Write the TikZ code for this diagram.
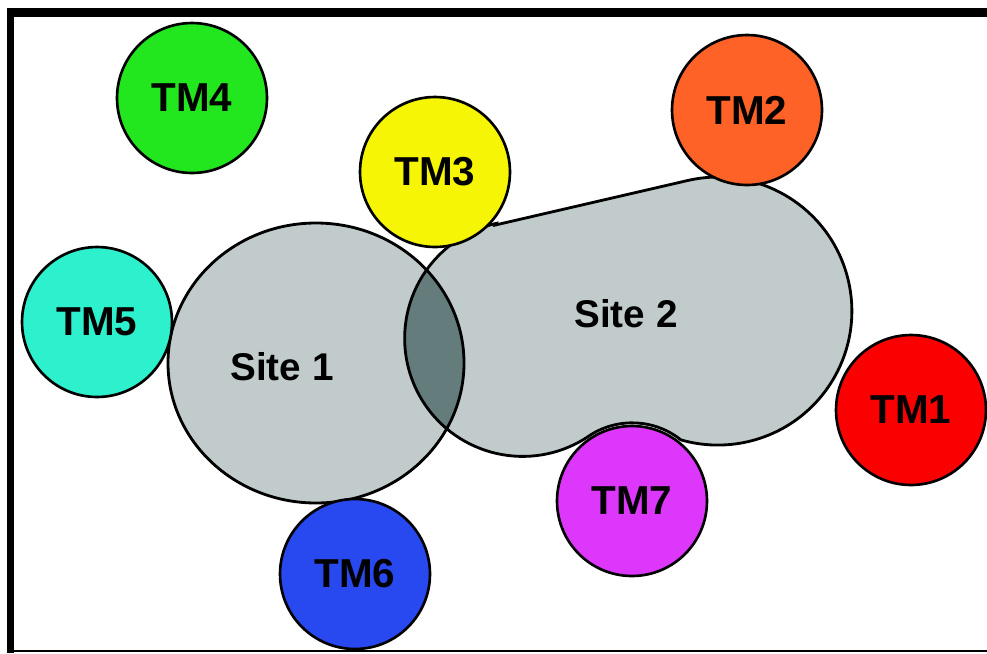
\documentclass[tikz,border=0pt]{standalone}
\usepackage{fontspec}
\setmainfont{Liberation Sans}

\definecolor{tmgreen}{RGB}{34,230,30}
\definecolor{tmorange}{RGB}{255,98,38}
\definecolor{tmyellow}{RGB}{245,245,5}
\definecolor{tmteal}{RGB}{45,240,205}
\definecolor{tmred}{RGB}{250,0,0}
\definecolor{tmmagenta}{RGB}{220,55,250}
\definecolor{tmblue}{RGB}{40,72,240}
\definecolor{sitefill}{RGB}{193,203,203}
\definecolor{overlapfill}{RGB}{100,124,124}

\tikzset{
  tm/.style={circle, draw=black, line width=1.5pt, minimum size=3cm, inner sep=0pt,
             font=\fontsize{23}{27}\selectfont\bfseries},
  sitelabel/.style={font=\fontsize{22}{26}\selectfont\bfseries},
  siteline/.style={draw=black, line width=1.6pt},
}

\begin{document}
\begin{tikzpicture}[x=0.02cm, y=-0.02cm]
\useasboundingbox (0,0) rectangle (987,653);
\fill[white] (0,0) rectangle (987,653);

% frame
\fill[black] (7,8) rectangle (987,17);
\fill[black] (7,8) rectangle (14,653);
\draw[line width=1pt] (7,651) -- (987,651);

% site outlines: a round cell, and a two-lobed cell hugging TM7 from above
\def\siteone{(316,363) ellipse [x radius=148, y radius=140]}
\def\sitetwo{(495.4,225) -- (687.7,180.5)
  arc[start angle=-103, end angle=106, radius=134]
  arc[start angle=-51.4, end angle=-122.5, radius=78]
  arc[start angle=55, end angle=257, radius=118] -- cycle}

\fill[sitefill] \siteone;
\fill[sitefill] \sitetwo;
\begin{scope}
  \clip \siteone;
  \fill[overlapfill] \sitetwo;
\end{scope}
\draw[siteline] \siteone;
\draw[siteline] \sitetwo;

\node[sitelabel] (s1) at (282,367) {Site 1};
\node[sitelabel] (s2) at (626,314) {Site 2};

% transmitters
\node[tm, fill=tmred]     (tm1) at (911,410) {TM1};
\node[tm, fill=tmorange]  (tm2) at (747,110) {TM2};
\node[tm, fill=tmyellow]  (tm3) at (435,172) {TM3};
\node[tm, fill=tmgreen]   (tm4) at (192,98)  {TM4};
\node[tm, fill=tmteal]    (tm5) at (97,322)  {TM5};
\node[tm, fill=tmblue]    (tm6) at (355,574) {TM6};
\node[tm, fill=tmmagenta] (tm7) at (632,501) {TM7};
\end{tikzpicture}
\end{document}
